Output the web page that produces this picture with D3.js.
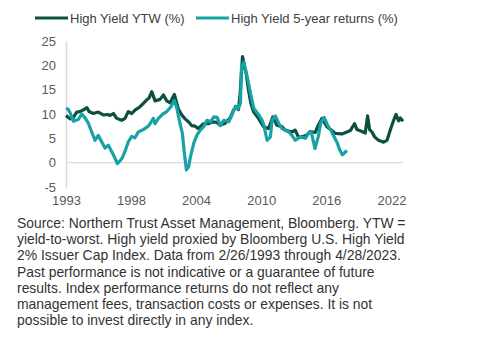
<!DOCTYPE html>
<html>
<head>
<meta charset="utf-8">
<script src="https://cdn.jsdelivr.net/npm/d3@7"></script>
<style>
  html, body { margin: 0; padding: 0; background: #ffffff; }
  svg { display: block; font-family: "Liberation Sans", Arial, sans-serif; }
</style>
</head>
<body>
<div id="chart"></div>
<script>
// ---- Data (fractional years, percent) ----
const ytwDates = [1993.15,1993.51,1993.78,1994.11,1994.40,1994.67,1995.03,1995.21,1995.60,1996.04,1996.49,1996.91,1997.09,1997.39,1997.69,1998.14,1998.43,1998.73,1999.04,1999.33,1999.78,2000.08,2000.38,2000.59,2000.83,2001.12,2001.57,2001.87,2002.17,2002.47,2002.85,2003.21,2003.52,2003.81,2004.11,2004.41,2004.71,2005.00,2005.45,2005.90,2006.21,2006.65,2006.95,2007.40,2007.85,2008.14,2008.45,2008.59,2008.74,2008.95,2009.10,2009.28,2009.49,2009.70,2009.93,2010.38,2010.83,2011.28,2011.67,2012.03,2012.48,2012.77,2013.37,2013.67,2013.97,2014.41,2014.72,2015.01,2015.46,2015.76,2016.06,2016.51,2016.96,2017.25,2017.85,2018.30,2018.60,2018.98,2019.20,2019.65,2019.94,2020.15,2020.33,2020.54,2020.78,2021.13,2021.58,2021.89,2022.18,2022.48,2022.69,2022.93,2023.08,2023.32];
const ytwValues = [9.7,9.0,9.2,10.4,10.5,10.8,11.3,10.5,10.1,10.4,9.8,9.9,9.7,10.1,9.1,8.7,9.1,10.5,10.1,10.8,11.5,12.2,12.9,13.3,14.6,12.7,13.0,13.9,12.7,12.3,14.0,11.0,9.8,9.0,8.4,7.6,7.5,7.0,8.0,8.0,8.4,8.3,7.7,8.1,9.2,10.8,11.5,10.9,14.2,21.8,20.2,18.3,14.9,12.2,10.5,9.1,7.4,7.0,9.4,7.7,7.4,6.7,6.3,6.7,5.2,5.4,5.7,6.4,6.2,7.8,9.1,7.4,6.6,6.0,5.9,6.3,6.6,8.0,6.8,6.4,6.1,9.6,6.8,6.3,5.3,4.6,4.2,4.6,6.7,8.7,9.9,8.6,9.2,8.5];

const retDates = [1993.15,1993.33,1993.51,1993.81,1994.26,1994.56,1994.86,1995.15,1995.45,1995.75,1996.04,1996.34,1996.64,1996.94,1997.24,1997.54,1997.75,1997.99,1998.17,1998.43,1998.73,1999.03,1999.33,1999.62,2000.07,2000.52,2000.67,2000.97,2001.12,2001.42,2001.87,2002.17,2002.55,2002.85,2003.07,2003.36,2003.57,2003.75,2003.93,2004.14,2004.29,2004.59,2004.88,2005.18,2005.48,2005.77,2006.08,2006.38,2006.68,2006.97,2007.27,2007.72,2008.01,2008.32,2008.55,2008.77,2008.86,2009.07,2009.37,2009.67,2009.96,2010.41,2010.71,2010.86,2011.15,2011.45,2011.60,2011.89,2012.19,2012.49,2013.09,2013.38,2013.68,2014.13,2014.58,2014.87,2015.11,2015.44,2015.74,2015.96,2016.26,2016.56,2016.85,2017.15,2017.45,2017.60,2017.89,2018.30];
const retValues = [11.2,11.0,10.3,8.5,8.9,10.0,9.2,8.1,6.3,4.6,5.6,4.3,3.0,3.6,2.3,0.9,-0.2,0.4,0.9,2.3,4.3,5.4,5.1,6.3,6.8,7.5,8.0,9.1,8.0,9.1,10.1,10.5,11.5,12.8,11.2,8.0,6.0,1.9,-1.5,-0.8,1.2,4.0,5.7,6.7,7.4,8.7,8.4,9.4,9.3,7.6,8.7,8.4,9.8,11.6,11.1,12.2,19.7,20.6,17.7,14.2,11.2,9.8,8.7,7.7,4.6,5.3,8.7,9.6,8.1,7.0,6.3,5.6,4.6,5.3,5.0,6.0,6.3,2.9,5.4,8.2,9.3,7.7,6.7,5.3,4.0,2.9,1.6,2.5,3.4];

const seriesNames = ["High Yield YTW (%)", "High Yield 5-year returns (%)"];
const seriesColors = ["#0b5040", "#17a3a6"];

const yTicks = [-5, 0, 5, 10, 15, 20, 25];
const xTickDates = [1993.15, 1998.96, 2004.79, 2010.62, 2016.45, 2022.29];
const xTickLabels = ["1993", "1998", "2004", "2010", "2016", "2022"];

const footnoteLines = [
  "Source: Northern Trust Asset Management, Bloomberg. YTW =",
  "yield-to-worst. High yield proxied by Bloomberg U.S. High Yield",
  "2% Issuer Cap Index. Data from 2/26/1993 through 4/28/2023.",
  "Past performance is not indicative or a guarantee of future",
  "results. Index performance returns do not reflect any",
  "management fees, transaction costs or expenses. It is not",
  "possible to invest directly in any index."
];

// ---- Layout ----
const W = 500, H = 343;
const plot = { left: 66, right: 403, top: 41, bottom: 187 };

const svg = d3.select("#chart").append("svg")
  .attr("width", W).attr("height", H);

const x = d3.scaleLinear().domain([ytwDates[0], ytwDates[ytwDates.length - 1]]).range([plot.left, plot.right]);
const y = d3.scaleLinear().domain([-5, 25]).range([plot.bottom, plot.top]);

// zero line
svg.append("line")
  .attr("x1", plot.left).attr("x2", plot.right)
  .attr("y1", y(0)).attr("y2", y(0))
  .attr("stroke", "#d9d9d9").attr("stroke-width", 1.2);

// y axis
const yAxis = d3.axisLeft(y).tickValues(yTicks).tickSize(0).tickPadding(10)
  .tickFormat(d => String(d));
const gy = svg.append("g").attr("transform", `translate(${plot.left},0)`).call(yAxis);
gy.select(".domain").attr("stroke", "#d9d9d9").attr("stroke-width", 1.5);
gy.selectAll("text").attr("fill", "#595959").style("font-size", "13px")
  .style("font-family", '"Liberation Sans", Arial, sans-serif');

// x axis labels
const xAxis = d3.axisBottom(x).tickValues(xTickDates).tickSize(0).tickPadding(0)
  .tickFormat((d, i) => xTickLabels[i]);
const gx = svg.append("g").attr("transform", `translate(0,${plot.bottom + 9})`).call(xAxis);
gx.select(".domain").remove();
gx.selectAll("text").attr("fill", "#595959").style("font-size", "13px")
  .style("font-family", '"Liberation Sans", Arial, sans-serif');

// lines
const line = d3.line().x(d => x(d[0])).y(d => y(d[1]));
const ytwData = ytwDates.map((d, i) => [d, ytwValues[i]]);
const retData = retDates.map((d, i) => [d, retValues[i]]);

svg.append("path").datum(ytwData).attr("d", line)
  .attr("fill", "none").attr("stroke", seriesColors[0])
  .attr("stroke-width", 3.2).attr("stroke-linejoin", "round");
svg.append("path").datum(retData).attr("d", line)
  .attr("fill", "none").attr("stroke", seriesColors[1])
  .attr("stroke-width", 3.2).attr("stroke-linejoin", "round");

// legend
const legendItems = [{ x: 35 }, { x: 196 }];
legendItems.forEach((it, i) => {
  svg.append("line").attr("x1", it.x).attr("x2", it.x + 33)
    .attr("y1", 18).attr("y2", 18)
    .attr("stroke", seriesColors[i]).attr("stroke-width", 3);
  svg.append("text").attr("x", it.x + 35).attr("y", 22.5)
    .attr("fill", "#404040").style("font-size", "13px")
    .text(seriesNames[i]);
});

// footnote
const fn = svg.append("text").attr("fill", "#333333").style("font-size", "13.9px");
footnoteLines.forEach((t, i) => {
  fn.append("tspan").attr("x", 17).attr("y", 228 + i * 16.2).text(t);
});
</script>
</body>
</html>
